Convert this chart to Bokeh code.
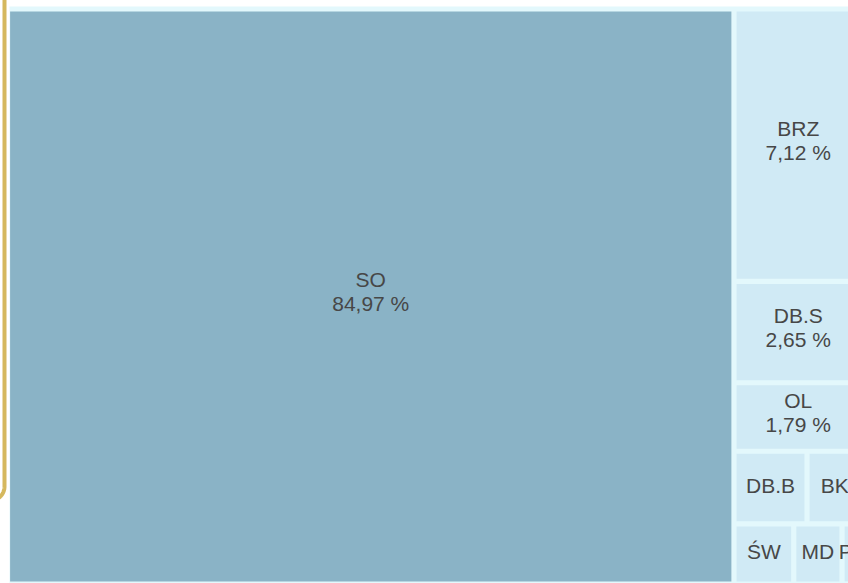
import numpy as np
from bokeh.plotting import figure
from bokeh.models import ColumnDataSource, Range1d
from bokeh.embed import file_html
from bokeh.resources import INLINE
from bokeh.core.properties import value

# ---- data (shares in %) ----
names = ["SO", "BRZ", "DB.S", "OL", "DB.B", "BK", "ŚW", "MD", "PZ"]
shares = [84.97, 7.12, 2.65, 1.79, 1.08, 0.82, 0.73, 0.59, 0.25]

# ---- squarified treemap layout ----
def worst(row, w):
    s = sum(row)
    return max(max(w * w * r / (s * s), s * s / (w * w * r)) for r in row)

def squarify(areas, x, y, dx, dy):
    rects = []
    areas = list(areas)
    while areas:
        side = min(dx, dy)
        row = [areas[0]]
        i = 1
        while i < len(areas) and worst(row + [areas[i]], side) <= worst(row, side):
            row.append(areas[i])
            i += 1
        areas = areas[i:]
        s = sum(row)
        if dx >= dy:
            cw = s / dy
            yy = y
            for a in row:
                h = a / cw
                rects.append((x, yy, cw, h))
                yy += h
            x += cw
            dx -= cw
        else:
            rh = s / dx
            xx = x
            for a in row:
                ww = a / rh
                rects.append((xx, y, ww, rh))
                xx += ww
            y += rh
            dy -= rh
    return rects

X0, Y0, X1, Y1 = 7.0, 8.5, 862.0, 583.5
W, H = X1 - X0, Y1 - Y0
total = sum(shares)
areas = [s / total * W * H for s in shares]
rects = squarify(areas, X0, Y0, W, H)

INSET = 2.6
DARK, LIGHT, GAP = "#8ab3c6", "#d0eaf5", "#e3f8fc"
left = [r[0] + INSET for r in rects]
right = [r[0] + r[2] - INSET for r in rects]
top = [r[1] + INSET for r in rects]
bottom = [r[1] + r[3] - INSET for r in rects]
colors = [DARK if s > 50 else LIGHT for s in shares]
tiles = ColumnDataSource(dict(left=left, right=right, top=top, bottom=bottom, color=colors))

def pct(v):
    return f"{v:.2f}".replace(".", ",") + " %"

cx = [r[0] + r[2] / 2 for r in rects]
cy = [r[1] + r[3] / 2 for r in rects]
lab_x, lab_y, lab_t = [], [], []
LH = 24
for n, s, x, y, r in zip(names, shares, cx, cy, rects):
    if r[2] >= 100:
        lab_x += [x, x]
        lab_y += [y - LH / 2 - 5, y + LH / 2 - 5]
        lab_t += [n, pct(s)]
    else:
        lab_x.append(x)
        lab_y.append(y - 2.5)
        lab_t.append(n)
labels = ColumnDataSource(dict(x=lab_x, y=lab_y, text=lab_t))

p = figure(width=852, height=587, output_backend="svg", toolbar_location=None,
           x_range=Range1d(-4, 848), y_range=Range1d(583, -4),
           min_border=0, outline_line_color=None, background_fill_color="white",
           border_fill_color="white")
p.styles = {"margin-left": "-4px", "margin-top": "-4px"}
p.axis.visible = False
p.grid.visible = False

# background of the treemap area (gap colour)
p.quad(left=[9], right=[880], top=[6], bottom=[600], fill_color=GAP, line_color=None)
p.quad(left="left", right="right", top="top", bottom="bottom", source=tiles,
       fill_color="color", line_color=None)
p.text(x="x", y="y", text="text", source=labels, text_align="center",
       text_baseline="middle", text_font=value("Liberation Sans"),
       text_font_size="21px", text_color="#474747")

# golden frame edge at the far left
t = np.linspace(0, np.pi / 2, 30)
fx = [4.0] + list(-10 + 14 * np.cos(t))
fy = [-10.0] + list(486 + 14 * np.sin(t))
p.line(fx, fy, line_color="#d5b85e", line_width=4)

open("out.html", "w").write(file_html(p, INLINE))
